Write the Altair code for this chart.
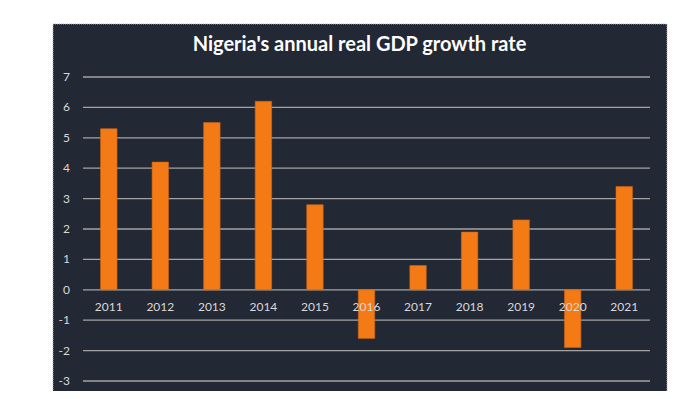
import altair as alt
import pandas as pd

YEARS = ["2011", "2012", "2013", "2014", "2015", "2016", "2017", "2018", "2019", "2020", "2021"]
GROWTH = [5.3, 4.2, 5.5, 6.2, 2.8, -1.6, 0.8, 1.9, 2.3, -1.9, 3.4]
Y_TICKS = [-3, -2, -1, 0, 1, 2, 3, 4, 5, 6, 7]
Y_TICK_LABELS = ["-3", "-2", "-1", "0", "1", "2", "3", "4", "5", "6", "7"]
TITLE = "Nigeria's annual real GDP growth rate"

BG = "#222834"
GRID = "#a3a3a3"
LABEL = "#d9d9d9"
BAR = "#f47a16"
FONT = "Lato"

W, H = 567, 304

df = pd.DataFrame({"year": YEARS, "growth": GROWTH})
ticks_df = pd.DataFrame({"v": Y_TICKS, "label": Y_TICK_LABELS})
panel_df = pd.DataFrame({"a": [0]})

yscale = alt.Scale(domain=[-3, 7], nice=False, zero=False)
xscale = alt.Scale(paddingInner=0.68, paddingOuter=0.34)

panel = alt.Chart(panel_df).mark_rect(
    fill=BG, stroke="#b0b0b0", strokeDash=[1, 1], strokeWidth=1
).encode(
    x=alt.value(-30), x2=alt.value(584), y=alt.value(-53), y2=alt.value(315)
)

grid = alt.Chart(ticks_df).mark_rule(color=GRID, strokeWidth=1.3).encode(
    y=alt.Y("v:Q", scale=yscale, axis=None),
    x=alt.value(0), x2=alt.value(W),
)

ylabels = alt.Chart(ticks_df).mark_text(
    color=LABEL, font=FONT, fontSize=12, align="right", baseline="middle"
).encode(
    y=alt.Y("v:Q", scale=yscale, axis=None),
    x=alt.value(-13),
    text="label:N",
)

bars = alt.Chart(df).mark_bar(color=BAR, stroke="#c8641a", strokeWidth=0.6).encode(
    x=alt.X("year:N", scale=xscale, axis=None, sort=YEARS),
    y=alt.Y("growth:Q", scale=yscale, axis=None),
    y2=alt.datum(0),
)

xlabels = alt.Chart(df).mark_text(
    color=LABEL, font=FONT, fontSize=12, dy=17, baseline="middle"
).encode(
    x=alt.X("year:N", scale=xscale, axis=None, sort=YEARS),
    y=alt.datum(0),
    text="year:N",
)

chart = alt.layer(panel, grid, ylabels, bars, xlabels).properties(
    width=W, height=H,
    title=alt.Title(TITLE, color="white", font=FONT, fontSize=20, fontWeight="bold",
                    anchor="middle", dx=-7, baseline="alphabetic", offset=-47),
    background="white",
    autosize=alt.AutoSizeParams(type="none"),
    padding={"left": 75, "top": 69, "right": 38, "bottom": 10},
).configure_view(stroke=None)

chart.save("out.html", embed_options={"renderer": "svg", "actions": False})
